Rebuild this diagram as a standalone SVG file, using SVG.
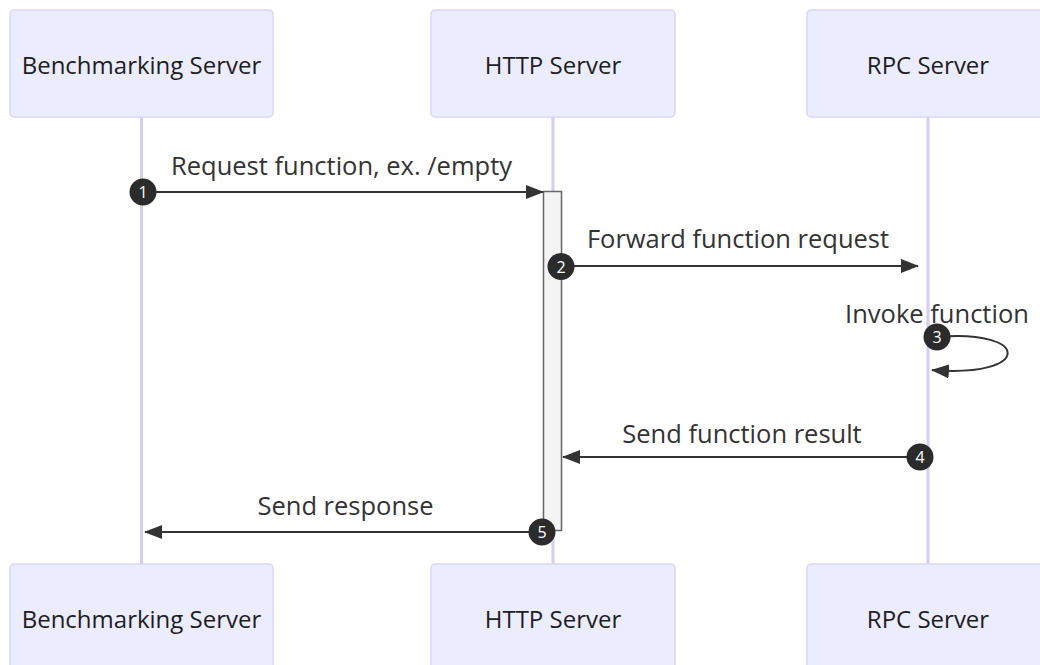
<svg xmlns="http://www.w3.org/2000/svg" width="1040" height="665" viewBox="0 0 1040 665">
  <style>
    .actor rect { fill: #ececff; stroke: #ddd6f7; stroke-width: 1.5; }
    .actor text { font-family: "Open Sans", "Noto Sans", sans-serif; font-size: 24px; fill: #1e1e1e; text-anchor: middle; dominant-baseline: central; }
    .lifeline { stroke: #d4cdf6; stroke-width: 3; }
    .msg { stroke: #333; stroke-width: 2; fill: none; }
    .label { font-family: "Open Sans", "Noto Sans", sans-serif; font-size: 25.5px; fill: #333; text-anchor: middle; }
    .seq circle { fill: #2b2b2b; }
    .seq text { font-family: "Open Sans", "Noto Sans", sans-serif; font-size: 16px; fill: #fff; text-anchor: middle; dominant-baseline: central; }
    .activation { fill: #f4f4f4; stroke: #666; stroke-width: 1.5; }
  </style>
  <defs>
    <marker id="arrowhead" viewBox="0 0 18 14" refX="17" refY="7" markerWidth="18" markerHeight="14" markerUnits="userSpaceOnUse" orient="auto">
      <path d="M0,0 L18,7 L0,14 z" fill="#333"/>
    </marker>
  </defs>
  <rect width="1040" height="665" fill="#fff"/>

  <!-- lifelines -->
  <g id="lifelines">
    <line class="lifeline" x1="141.5" y1="117" x2="141.5" y2="564"/>
    <line class="lifeline" x1="553" y1="117" x2="553" y2="564"/>
    <line class="lifeline" x1="928" y1="117" x2="928" y2="564"/>
  </g>

  <!-- participants (top) -->
  <g id="bench-top" class="actor">
    <rect x="10" y="10" width="263" height="107" rx="4"/>
    <text x="141.5" y="64">Benchmarking Server</text>
  </g>
  <g id="http-top" class="actor">
    <rect x="431" y="10" width="244" height="107" rx="4"/>
    <text x="553" y="64">HTTP Server</text>
  </g>
  <g id="rpc-top" class="actor">
    <rect x="807" y="10" width="243" height="107" rx="4"/>
    <text x="928" y="64">RPC Server</text>
  </g>

  <!-- participants (bottom) -->
  <g id="bench-bottom" class="actor">
    <rect x="10" y="564" width="263" height="107" rx="4"/>
    <text x="141.5" y="618">Benchmarking Server</text>
  </g>
  <g id="http-bottom" class="actor">
    <rect x="431" y="564" width="244" height="107" rx="4"/>
    <text x="553" y="618">HTTP Server</text>
  </g>
  <g id="rpc-bottom" class="actor">
    <rect x="807" y="564" width="243" height="107" rx="4"/>
    <text x="928" y="618">RPC Server</text>
  </g>

  <!-- activation of the HTTP server -->
  <g id="http-activation">
    <rect class="activation" x="543.5" y="191.5" width="18" height="339"/>
  </g>

  <!-- messages -->
  <g id="connectors">
    <line class="msg" x1="143" y1="192" x2="543" y2="192" marker-end="url(#arrowhead)"/>
    <text class="label" x="341.5" y="175">Request function, ex. /empty</text>

    <line class="msg" x1="561" y1="266" x2="918" y2="266" marker-end="url(#arrowhead)"/>
    <text class="label" x="738" y="248">Forward function request</text>

    <path class="msg" d="M937,337 C1032,329 1032,378 932,370" marker-end="url(#arrowhead)"/>
    <text class="label" x="937" y="323">Invoke function</text>

    <line class="msg" x1="920" y1="457" x2="563" y2="457" marker-end="url(#arrowhead)"/>
    <text class="label" x="742" y="443">Send function result</text>

    <line class="msg" x1="542" y1="532" x2="145" y2="532" marker-end="url(#arrowhead)"/>
    <text class="label" x="345.5" y="515">Send response</text>

    <!-- sequence numbers -->
    <g class="seq">
      <circle cx="143" cy="192" r="13.5"/><text x="143" y="192">1</text>
      <circle cx="561" cy="266.5" r="13.5"/><text x="561" y="266.5">2</text>
      <circle cx="937" cy="337" r="13.5"/><text x="937" y="337">3</text>
      <circle cx="920" cy="457" r="13.5"/><text x="920" y="457">4</text>
      <circle cx="542" cy="532" r="13.5"/><text x="542" y="532">5</text>
    </g>
  </g>
</svg>
